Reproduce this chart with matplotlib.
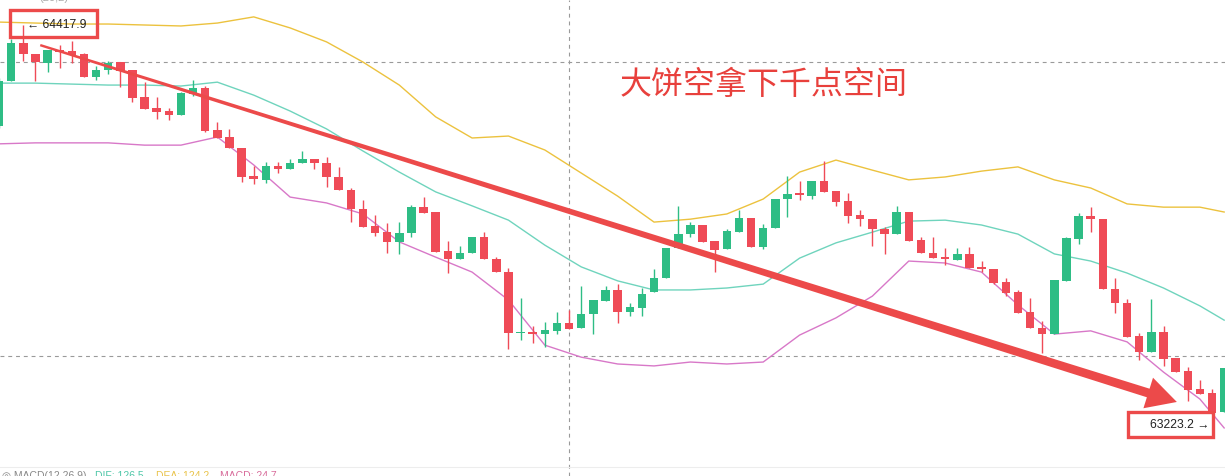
import numpy as np
import matplotlib
matplotlib.use("Agg")
import matplotlib.pyplot as plt
from matplotlib.patches import Polygon, Rectangle

# candle data (BTC, price units)
opens = [64107, 64246, 64363, 64329, 64301, 64341, 64338, 64329, 64258, 64279,
         64304, 64279, 64196, 64162, 64153, 64141, 64206, 64224, 64095, 64073,
         64039, 63953, 63941, 63984, 63974, 63993, 64005, 63993, 63950, 63910,
         63851, 63799, 63780, 63750, 63777, 63857, 63842, 63722, 63697, 63716,
         63765, 63697, 63657, 63469, 63472, 63466, 63476, 63500, 63485, 63528,
         63568, 63602, 63534, 63546, 63596, 63639, 63731, 63774, 63802, 63753,
         63728, 63780, 63824, 63734, 63793, 63882, 63901, 63891, 63938, 63907,
         63876, 63833, 63820, 63790, 63774, 63842, 63756, 63716, 63703, 63694,
         63713, 63673, 63666, 63626, 63596, 63534, 63485, 63466, 63630, 63759,
         63830, 63820, 63605, 63562, 63460, 63411, 63472, 63392, 63352, 63297,
         63285, 63226]
highs = [64255, 64375, 64417.9, 64329, 64341, 64356, 64369, 64332, 64292, 64307,
         64304, 64279, 64242, 64196, 64162, 64212, 64249, 64230, 64119, 64098,
         64039, 63984, 63996, 63996, 64005, 64030, 64005, 64011, 63981, 63916,
         63879, 63833, 63808, 63811, 63864, 63888, 63842, 63753, 63737, 63765,
         63780, 63703, 63670, 63577, 63491, 63503, 63534, 63540, 63614, 63571,
         63614, 63620, 63562, 63608, 63666, 63731, 63860, 63811, 63802, 63753,
         63790, 63848, 63824, 63805, 63882, 63953, 63938, 63938, 63999, 63907,
         63901, 63848, 63820, 63796, 63860, 63842, 63765, 63765, 63731, 63731,
         63734, 63691, 63666, 63639, 63602, 63577, 63506, 63633, 63765, 63839,
         63857, 63820, 63639, 63574, 63469, 63574, 63491, 63392, 63365, 63325,
         63297, 63362]
lows = [64101, 64246, 64307, 64246, 64273, 64286, 64301, 64258, 64249, 64267,
        64227, 64181, 64159, 64128, 64125, 64141, 64199, 64088, 64070, 64039,
        63934, 63928, 63931, 63962, 63974, 63993, 63974, 63919, 63910, 63811,
        63796, 63768, 63716, 63713, 63765, 63839, 63719, 63654, 63697, 63716,
        63697, 63657, 63420, 63448, 63439, 63426, 63466, 63482, 63485, 63466,
        63568, 63500, 63522, 63522, 63596, 63639, 63731, 63765, 63750, 63657,
        63728, 63780, 63734, 63728, 63793, 63827, 63879, 63882, 63904, 63860,
        63808, 63799, 63737, 63713, 63774, 63753, 63716, 63700, 63679, 63694,
        63670, 63657, 63620, 63583, 63531, 63485, 63408, 63466, 63630, 63743,
        63780, 63605, 63531, 63457, 63386, 63411, 63368, 63349, 63260, 63281,
        63223.2, 63226]
closes = [64246, 64363, 64329, 64304, 64341, 64335, 64326, 64258, 64279, 64301,
          64276, 64193, 64159, 64150, 64141, 64209, 64224, 64091, 64070, 64039,
          63950, 63944, 63984, 63974, 63993, 64005, 63993, 63950, 63910, 63851,
          63796, 63777, 63750, 63777, 63857, 63839, 63719, 63697, 63716, 63765,
          63697, 63657, 63469, 63472, 63466, 63479, 63500, 63482, 63528, 63571,
          63602, 63534, 63549, 63590, 63639, 63731, 63774, 63802, 63750, 63725,
          63784, 63824, 63734, 63793, 63882, 63897, 63894, 63938, 63904, 63873,
          63830, 63820, 63790, 63774, 63842, 63753, 63716, 63700, 63697, 63713,
          63670, 63666, 63623, 63593, 63531, 63485, 63466, 63633, 63762, 63830,
          63820, 63605, 63562, 63457, 63411, 63472, 63389, 63349, 63294, 63281,
          63223.2, 63362]

# Bollinger bands, sampled every 3 candles
band_idx = [0, 3, 6, 9, 12, 15, 18, 21, 24, 27, 30, 33, 36, 39, 42, 45, 48, 51,
            54, 57, 60, 63, 66, 69, 72, 75, 78, 81, 84, 87, 90, 93, 96, 99, 101]
boll_up = [64427, 64424, 64421, 64421, 64418, 64415, 64424, 64443, 64409, 64366,
           64304, 64233, 64135, 64070, 64076, 64033, 63962, 63891, 63811, 63820,
           63836, 63882, 63965, 64002, 63971, 63941, 63950, 63968, 63981, 63941,
           63916, 63867, 63857, 63857, 63842]
boll_mid = [64239, 64239, 64236, 64233, 64233, 64230, 64242, 64202, 64153, 64098,
            64030, 63965, 63904, 63861, 63817, 63740, 63673, 63630, 63602, 63602,
            63608, 63620, 63700, 63747, 63780, 63814, 63817, 63802, 63774, 63713,
            63691, 63654, 63608, 63553, 63509]
boll_low = [64052, 64055, 64055, 64055, 64048, 64048, 64073, 63987, 63888, 63870,
            63836, 63750, 63703, 63657, 63571, 63432, 63395, 63374, 63368, 63380,
            63374, 63380, 63463, 63516, 63583, 63691, 63685, 63657, 63556, 63466,
            63476, 63442, 63349, 63266, 63177]

hi_label = "← 64417.9"
lo_label = "63223.2 →"
note = "大饼空拿下千点空间"
arrow_from = (3.4, 64356)
arrow_to = (97.1, 63257)

GREEN = "#2ebd85"
RED = "#ef4b57"
MARK = "#ec4a4a"

plt.rcParams['font.family'] = ['Liberation Sans', 'DejaVu Sans']

fig = plt.figure(figsize=(12.25, 4.76), dpi=100)
ax = fig.add_axes([0, 0, 1, 1])
ax.set_xlim(0.082, 101.07)
ax.set_ylim(63029, 64495)
ax.axis('off')

# crosshair / price lines
dash = (0, (3.5, 3.5))
ax.axhline(64304, color="#9a9a9a", lw=0.8, ls=dash, zorder=1)
ax.axhline(63399, color="#9a9a9a", lw=0.8, ls=dash, zorder=1)
ax.axvline(47.0, color="#9a9a9a", lw=0.8, ls=dash, zorder=1)
ax.axhline(63057, color="#ededed", lw=0.8, zorder=1)

# bands
ax.plot(band_idx, boll_up, color="#ecc23e", lw=1.0, zorder=2)
ax.plot(band_idx, boll_mid, color="#6fd4bd", lw=1.0, zorder=2)
ax.plot(band_idx, boll_low, color="#d878c8", lw=1.0, zorder=2)

# candles
x = np.arange(len(opens))
o = np.array(opens, float)
c = np.array(closes, float)
cols = [GREEN if cc >= oo else RED for oo, cc in zip(o, c)]
ax.vlines(x, lows, highs, colors=cols, lw=1.0, zorder=3)
bottoms = np.minimum(o, c)
heights = np.maximum(np.abs(c - o), 3)
ax.bar(x, heights, bottom=bottoms, width=0.7, color=cols, zorder=4)

# tapered arrow drawn in screen pixels
fig.canvas.draw()
p0 = ax.transData.transform(arrow_from)
p1 = ax.transData.transform(arrow_to)
d = p1 - p0
u = d / np.hypot(*d)
n = np.array([-u[1], u[0]])
head_len, head_w = 30, 32
base = p1 - u * head_len
pts = [p0 + n * 1.2, base + n * 4.5, base + n * head_w / 2, p1,
       base - n * head_w / 2, base - n * 4.5, p0 - n * 1.2]
pts = ax.transData.inverted().transform(np.array(pts))
ax.add_patch(Polygon(pts, closed=True, color=MARK, lw=0, zorder=6))

# price markers with red boxes
ax.text(2.3, 64417.9, hi_label, fontsize=8.7, va='center', ha='left',
        color="#222222", zorder=7)
ax.add_patch(Rectangle((0.91, 64381), 7.2, 83, fill=False, ec=MARK, lw=2.4, zorder=7))
ax.text(99.8, 63186, lo_label, fontsize=8.7, va='center', ha='right',
        color="#222222", zorder=7)
ax.add_patch(Rectangle((93.1, 63149), 6.95, 77, fill=False, ec=MARK, lw=2.4, zorder=7))

ax.text(51.2, 64233, note, fontsize=23, color="#e8403c", va='center', ha='left',
        family=['Noto Sans CJK SC', 'DejaVu Sans'], zorder=7)

# clipped legend strips at top and bottom of the screenshot
ax.text(3.3, 64492, "(20,2)", fontsize=8, color="#aaaaaa", va='baseline', ha='left')
strip_y = 0.011
fig.text(0.002, strip_y, "◎ MACD(12,26,9)", fontsize=7.5, color="#888888", va='top')
fig.text(0.0776, strip_y, "DIF: 126.5", fontsize=7.5, color="#4fc7a8", va='top')
fig.text(0.127, strip_y, "DEA: 124.2", fontsize=7.5, color="#e9c34a", va='top')
fig.text(0.18, strip_y, "MACD: 24.7", fontsize=7.5, color="#d86b9a", va='top')

fig.savefig("out.png", dpi=100)
